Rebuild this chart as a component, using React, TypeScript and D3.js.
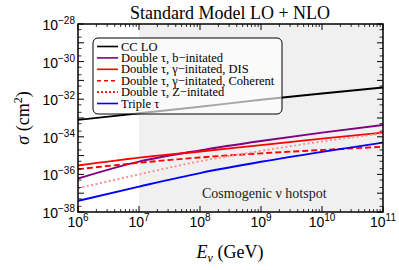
import React from "react";
import * as d3 from "d3";

const energies = [1e6, 1e7, 1e8, 1e9, 1e10, 1e11];
const ccLO = [-33.1, -32.75, -32.4, -32.03, -31.7, -31.38];
const bInit = [-36.22, -35.32, -34.72, -34.22, -33.78, -33.37];
const gammaDIS = [-35.53, -35.11, -34.78, -34.44, -34.1, -33.78];
const gammaCoh = [-35.73, -35.38, -35.1, -34.88, -34.7, -34.53];
const zInit = [-36.74, -36.0, -35.3, -34.75, -34.25, -33.82];
const triple = [-37.41, -36.65, -35.93, -35.33, -34.8, -34.31];

const xDecades = [6, 7, 8, 9, 10, 11];
const yDecades = [-38, -37, -36, -35, -34, -33, -32, -31, -30, -29, -28];
const yLabelDecades = [-38, -36, -34, -32, -30, -28];
const hotspot = [1e7, 1e11];

const legendLabels = [
  "CC LO",
  "Double τ, b−initated",
  "Double τ, γ−initated, DIS",
  "Double τ, γ−initated, Coherent",
  "Double τ, Z−initated",
  "Triple τ",
];

const series = [
  { vals: ccLO, color: "#000000", dash: "", legendColor: "#000000", legendDash: "" },
  { vals: bInit, color: "#800080", dash: "", legendColor: "#800080", legendDash: "" },
  { vals: gammaDIS, color: "#ff0000", dash: "", legendColor: "#ff0000", legendDash: "" },
  { vals: gammaCoh, color: "#ff0000", dash: "6,3", legendColor: "#ff0000", legendDash: "4,3" },
  { vals: zInit, color: "#ff8c8c", dash: "2,2.5", legendColor: "#ff0000", legendDash: "2,2" },
  { vals: triple, color: "#0000ff", dash: "", legendColor: "#0000ff", legendDash: "" },
];

const L = 78, R = 383, T = 24, B = 212;
const serif = "Liberation Serif, Times New Roman, serif";
const sans = "Liberation Sans, Arial, sans-serif";

export default function App() {
  const x = d3.scaleLog().domain([1e6, 1e11]).range([L, R]);
  const y = d3.scaleLog().domain([1e-38, 1e-28]).range([B, T]);
  const line = d3
    .line<[number, number]>()
    .x((d) => x(d[0]))
    .y((d) => y(Math.pow(10, d[1])))
    .curve(d3.curveMonotoneX);

  const xMinor: number[] = [];
  xDecades.slice(0, -1).forEach((d) => {
    for (let k = 2; k <= 9; k++) xMinor.push(k * Math.pow(10, d));
  });
  const yMinor: number[] = [];
  yDecades.slice(0, -1).forEach((d) => {
    [2, 5].forEach((k) => yMinor.push(k * Math.pow(10, d)));
  });

  const leg = { x: 93, y: 38, w: 189, h: 76 };
  const rowY = (i: number) => 46.5 + i * 11.4;

  return (
    <svg width={399} height={270} style={{ display: "block", position: "absolute", left: 0, top: 0 }}>
      <rect x={0} y={0} width={399} height={270} fill="#fff" />
      <rect x={x(hotspot[0])} y={T} width={x(hotspot[1]) - x(hotspot[0])} height={B - T} fill="#f0f0f0" />
      <defs>
        <clipPath id="plotclip">
          <rect x={L} y={T} width={R - L} height={B - T} />
        </clipPath>
      </defs>
      <g clipPath="url(#plotclip)">
        {series.map((s, i) => (
          <path
            key={i}
            d={line(energies.map((e, j) => [e, s.vals[j]] as [number, number])) || ""}
            fill="none"
            stroke={s.color}
            strokeWidth={1.9}
            strokeDasharray={s.dash}
          />
        ))}
      </g>
      <rect x={leg.x} y={leg.y} width={leg.w} height={leg.h} rx={5} fill="#ffffff" fillOpacity={0.65} stroke="#000" strokeWidth={1} />
      {legendLabels.map((lab, i) => (
        <g key={i}>
          <line x1={97} x2={118} y1={rowY(i)} y2={rowY(i)} stroke={series[i].legendColor} strokeWidth={1.6} strokeDasharray={series[i].legendDash} />
          <text x={121} y={rowY(i) + 4} fontFamily={serif} fontSize={12.5} fill="#000">{lab}</text>
        </g>
      ))}
      <text x={202} y={198} fontFamily={serif} fontSize={14} textAnchor="start" fill="#222">Cosmogenic ν hotspot</text>
      {/* frame */}
      <rect x={L} y={T} width={R - L} height={B - T} fill="none" stroke="#000" strokeWidth={1.5} />
      {/* x ticks */}
      {xDecades.map((d) => {
        const px = x(Math.pow(10, d));
        return (
          <g key={"xm" + d}>
            <line x1={px} x2={px} y1={B} y2={B - 6} stroke="#000" strokeWidth={1} />
            <line x1={px} x2={px} y1={T} y2={T + 6} stroke="#000" strokeWidth={1} />
            <text x={px} y={227} fontFamily={sans} fontSize={14} textAnchor="middle" fill="#000">
              10<tspan fontSize={10} dy={-6}>{d}</tspan>
            </text>
          </g>
        );
      })}
      {xMinor.map((v, i) => {
        const px = x(v);
        return (
          <g key={"xn" + i}>
            <line x1={px} x2={px} y1={B} y2={B - 3} stroke="#000" strokeWidth={0.8} />
            <line x1={px} x2={px} y1={T} y2={T + 3} stroke="#000" strokeWidth={0.8} />
          </g>
        );
      })}
      {/* y ticks */}
      {yDecades.map((d) => {
        const py = y(Math.pow(10, d));
        return (
          <g key={"ym" + d}>
            <line x1={L} x2={L + 6} y1={py} y2={py} stroke="#000" strokeWidth={1} />
            <line x1={R} x2={R - 6} y1={py} y2={py} stroke="#000" strokeWidth={1} />
          </g>
        );
      })}
      {yMinor.map((v, i) => {
        const py = y(v);
        return (
          <g key={"yn" + i}>
            <line x1={L} x2={L + 3.5} y1={py} y2={py} stroke="#000" strokeWidth={0.8} />
            <line x1={R} x2={R - 3.5} y1={py} y2={py} stroke="#000" strokeWidth={0.8} />
          </g>
        );
      })}
      {yLabelDecades.map((d) => {
        const py = y(Math.pow(10, d));
        return (
          <text key={"yl" + d} x={75} y={py + 6} fontFamily={sans} fontSize={14} textAnchor="end" fill="#000">
            10<tspan fontSize={10} dy={-6}>{"−" + Math.abs(d)}</tspan>
          </text>
        );
      })}
      <text x={230} y={19} fontFamily={serif} fontSize={18} textAnchor="middle" fill="#000">Standard Model LO + NLO</text>
      <text x={230} y={258} fontFamily={serif} fontSize={18} textAnchor="middle" fill="#000">
        <tspan fontStyle="italic">E</tspan>
        <tspan fontStyle="italic" fontSize={12} dy={4}>ν</tspan>
        <tspan dy={-4}> (GeV)</tspan>
      </text>
      <text transform={`translate(29,${(T + B) / 2}) rotate(-90)`} fontFamily={serif} fontSize={18} textAnchor="middle" fill="#000">
        <tspan fontStyle="italic">σ</tspan> (cm<tspan fontSize={12} dy={-7}>2</tspan><tspan dy={7}>)</tspan>
      </text>
    </svg>
  );
}
